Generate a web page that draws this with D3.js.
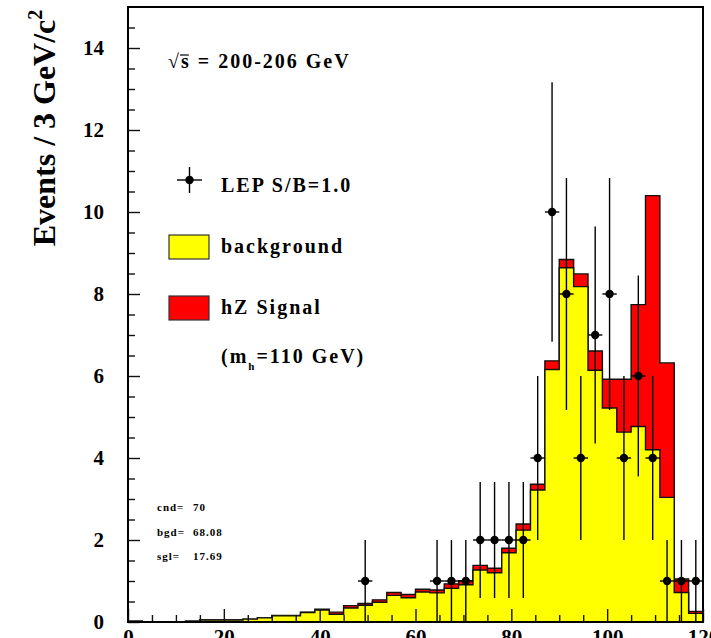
<!DOCTYPE html>
<html>
<head>
<meta charset="utf-8">
<script src="https://cdn.jsdelivr.net/npm/d3@7"></script>
<style>
  body { margin: 0; background: #fff; }
  svg text { font-family: "Liberation Serif", "Times New Roman", serif; font-weight: bold; fill: #000; }
</style>
</head>
<body>
<script>
// 3 GeV bins from 0 to 120 GeV
const binWidth = 3;
const binLow = d3.range(0, 120, binWidth);

// expected background per bin (yellow)
const background = [0.02, 0, 0, 0, 0.02, 0.05, 0.05, 0.05, 0.07, 0.10,
                    0.15, 0.15, 0.23, 0.29, 0.19, 0.34, 0.41, 0.48, 0.65, 0.59,
                    0.73, 0.71, 0.82, 0.91, 1.27, 1.20, 1.69, 2.24, 3.22, 6.16,
                    8.64, 8.18, 6.14, 5.22, 4.63, 4.77, 4.20, 3.04, 0.72, 0.21];

// hZ signal per bin, stacked on the background (red)
const signal = [0, 0, 0, 0, 0, 0, 0, 0, 0, 0,
                0.01, 0.01, 0.01, 0.02, 0.05, 0.06, 0.04, 0.06, 0.07, 0.08,
                0.07, 0.07, 0.11, 0.10, 0.11, 0.11, 0.11, 0.15, 0.14, 0.21,
                0.20, 0.31, 0.47, 0.70, 1.29, 2.97, 6.20, 3.28, 0.33, 0.05];

// candidate events per bin (black points)
const candidates = [0, 0, 0, 0, 0, 0, 0, 0, 0, 0,
                    0, 0, 0, 0, 0, 0, 1, 0, 0, 0,
                    0, 1, 1, 1, 2, 2, 2, 2, 4, 10,
                    8, 4, 7, 8, 4, 6, 4, 1, 1, 1];

const yTicks = [0, 2, 4, 6, 8, 10, 12, 14];
const xTicks = [0, 20, 40, 60, 80, 100, 120];
const statLabels = ["cnd=", "bgd=", "sgl="];
const statValues = ["70", "68.08", "17.69"];

function histChart() {
  const width = 711;
  const height = 638;
  const margin = { top: 7, right: 8, bottom: 16, left: 128 };

  const x = d3.scaleLinear().domain([0, 120]).range([margin.left, width - margin.right]);
  const y = d3.scaleLinear().domain([0, 15]).range([height - margin.bottom, margin.top]);

  const svg = d3.select("body").append("svg")
      .attr("width", width)
      .attr("height", height)
      .attr("viewBox", [0, 0, width, height]);

  // histogram as step outline: two points per bin
  const steps = vals => vals.flatMap((v, i) => [[binLow[i], v], [binLow[i] + binWidth, v]]);
  const area = d3.area().x(d => x(d[0])).y0(y(0)).y1(d => y(d[1]));
  const line = d3.line().x(d => x(d[0])).y(d => y(d[1]));

  const total = background.map((b, i) => b + signal[i]);

  // signal+background drawn first in red, background over it in yellow
  svg.append("path").attr("d", area(steps(total))).attr("fill", "#ff0000");
  svg.append("path").attr("d", line(steps(total)))
      .attr("fill", "none").attr("stroke", "#111").attr("stroke-width", 1.4);
  svg.append("path").attr("d", area(steps(background))).attr("fill", "#ffff00");
  svg.append("path").attr("d", line(steps(background)))
      .attr("fill", "none").attr("stroke", "#111").attr("stroke-width", 1.4);

  // axes with inward ticks
  const yAxis = svg.append("g")
      .attr("transform", `translate(${margin.left},0)`)
      .call(d3.axisLeft(y).tickValues(yTicks).tickSize(-12).tickPadding(24).tickSizeOuter(0));
  svg.append("g")
      .attr("transform", `translate(${margin.left},0)`)
      .call(d3.axisLeft(y).tickValues(d3.range(0.5, 15, 0.5).filter(v => v % 2 !== 0))
        .tickSize(-7).tickFormat("").tickSizeOuter(0));

  const xAxis = svg.append("g")
      .attr("transform", `translate(0,${height - margin.bottom})`)
      .call(d3.axisBottom(x).tickValues(xTicks).tickSize(-13).tickPadding(7).tickSizeOuter(0));
  svg.append("g")
      .attr("transform", `translate(0,${height - margin.bottom})`)
      .call(d3.axisBottom(x).tickValues(d3.range(5, 120, 5).filter(v => v % 20 !== 0))
        .tickSize(-7).tickFormat("").tickSizeOuter(0));

  svg.selectAll(".domain").remove();
  svg.selectAll(".tick line").attr("stroke", "#111").attr("stroke-width", 1.4);
  svg.selectAll(".tick text")
      .attr("font-size", 21)
      .attr("font-family", "Liberation Serif, serif")
      .attr("font-weight", "bold");

  // candidate points with sqrt(n) error bars
  const pts = candidates.map((n, i) => ({ m: binLow[i] + binWidth / 2, n }))
      .filter(d => d.n > 0);
  const pg = svg.append("g").attr("stroke", "#000").attr("stroke-width", 1.4);
  pg.selectAll(".ev").data(pts).join("line")
      .attr("x1", d => x(d.m)).attr("x2", d => x(d.m))
      .attr("y1", d => y(Math.max(0, d.n - Math.sqrt(d.n))))
      .attr("y2", d => y(d.n + Math.sqrt(d.n)));
  pg.selectAll(".eh").data(pts).join("line")
      .attr("x1", d => x(d.m - binWidth / 2)).attr("x2", d => x(d.m + binWidth / 2))
      .attr("y1", d => y(d.n)).attr("y2", d => y(d.n));
  svg.append("g").selectAll("circle").data(pts).join("circle")
      .attr("cx", d => x(d.m)).attr("cy", d => y(d.n)).attr("r", 4.2)
      .attr("fill", "#000");

  // frame
  svg.append("rect")
      .attr("x", margin.left).attr("y", margin.top)
      .attr("width", width - margin.left - margin.right)
      .attr("height", height - margin.top - margin.bottom)
      .attr("fill", "none").attr("stroke", "#000").attr("stroke-width", 2);

  // y axis title
  svg.append("text")
      .attr("transform", "translate(55,128) rotate(-90)")
      .attr("text-anchor", "middle")
      .attr("font-size", 32)
      .text("Events / 3 GeV/c")
    .append("tspan")
      .attr("dy", -13)
      .attr("font-size", 20)
      .text("2");

  // energy label with overline on s
  const sLabel = svg.append("text")
      .attr("x", 168).attr("y", 68)
      .attr("font-size", 20)
      .attr("letter-spacing", 2)
      .text("√s = 200-206 GeV");
  const ext = sLabel.node().getExtentOfChar(1);
  svg.append("line")
      .attr("x1", ext.x - 1).attr("x2", ext.x + ext.width - 2)
      .attr("y1", 55).attr("y2", 55)
      .attr("stroke", "#000").attr("stroke-width", 1.2);

  // legend
  const lg = svg.append("g");
  lg.append("line").attr("x1", 177).attr("x2", 202).attr("y1", 180).attr("y2", 180)
      .attr("stroke", "#000").attr("stroke-width", 1.4);
  lg.append("line").attr("x1", 189.5).attr("x2", 189.5).attr("y1", 167).attr("y2", 193)
      .attr("stroke", "#000").attr("stroke-width", 1.4);
  lg.append("circle").attr("cx", 189.5).attr("cy", 180).attr("r", 4.2).attr("fill", "#000");
  lg.append("rect").attr("x", 169).attr("y", 235).attr("width", 40).attr("height", 24)
      .attr("fill", "#ffff00").attr("stroke", "#333").attr("stroke-width", 1.2);
  lg.append("rect").attr("x", 169).attr("y", 296).attr("width", 40).attr("height", 24)
      .attr("fill", "#ff0000").attr("stroke", "#333").attr("stroke-width", 1.2);

  const legendText = [["LEP S/B=1.0", 192], ["background", 253], ["hZ Signal", 314]];
  lg.selectAll(".lt").data(legendText).join("text")
      .attr("x", 221).attr("y", d => d[1])
      .attr("font-size", 20).attr("letter-spacing", 2)
      .text(d => d[0]);

  const mh = lg.append("text")
      .attr("x", 221).attr("y", 363)
      .attr("font-size", 20).attr("letter-spacing", 2);
  mh.append("tspan").text("(m");
  mh.append("tspan").attr("dy", 7).attr("font-size", 11).text("h");
  mh.append("tspan").attr("dy", -7).text("=110 GeV)");

  // event counts
  const st = svg.append("g").attr("font-size", 11).attr("letter-spacing", 1);
  st.selectAll(".sl").data(statLabels).join("text")
      .attr("x", 157).attr("y", (d, i) => 511 + i * 24.5)
      .attr("font-size", 11).attr("letter-spacing", 1)
      .text(d => d);
  st.selectAll(".sv").data(statValues).join("text")
      .attr("x", 193).attr("y", (d, i) => 511 + i * 24.5)
      .attr("font-size", 11).attr("letter-spacing", 1)
      .text(d => d);

  return svg.node();
}

histChart();
</script>
</body>
</html>
